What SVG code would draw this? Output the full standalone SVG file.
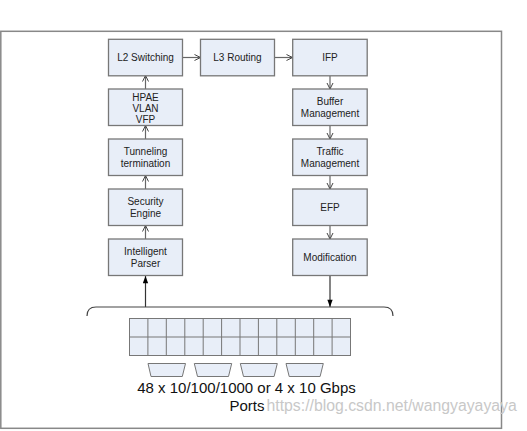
<svg xmlns="http://www.w3.org/2000/svg" width="527" height="431" viewBox="0 0 527 431">
<defs>
<style>
.box{fill:#e8eef8;stroke:#777;stroke-width:1.3}
.t{font-family:"Liberation Sans",Arial,sans-serif;font-size:10px;fill:#222;text-anchor:middle}
.c{fill:none;stroke:#666;stroke-width:1.2}
.port{fill:#e8eef8;stroke:#777;stroke-width:1}
.big{font-family:"Liberation Sans",Arial,sans-serif;font-size:15px;fill:#111;text-anchor:middle}
</style>
<marker id="open" viewBox="0 0 8 8" refX="7" refY="4" markerWidth="8" markerHeight="8" markerUnits="userSpaceOnUse" orient="auto">
<path d="M1,1 L7,4 L1,7" fill="none" stroke="#444" stroke-width="1"/>
</marker>
<marker id="solid" viewBox="0 0 8 12" refX="11" refY="4" markerWidth="12" markerHeight="8" markerUnits="userSpaceOnUse" orient="auto">
<path d="M0,0 L11,4 L0,8 Z" fill="#000"/>
</marker>
</defs>
<rect width="527" height="431" fill="#fff"/>
<rect x="0.8" y="31.3" width="500.7" height="397" fill="none" stroke="#888" stroke-width="1.5"/>

<g id="connectors">
<line class="c" x1="182.5" y1="57.5" x2="200.5" y2="57.5" marker-end="url(#open)"/>
<line class="c" x1="274.5" y1="57.5" x2="292.5" y2="57.5" marker-end="url(#open)"/>
<line class="c" x1="145.5" y1="89" x2="145.5" y2="75.5" marker-end="url(#open)"/>
<line class="c" x1="145.5" y1="139" x2="145.5" y2="125.5" marker-end="url(#open)"/>
<line class="c" x1="145.5" y1="189" x2="145.5" y2="175.5" marker-end="url(#open)"/>
<line class="c" x1="145.5" y1="239" x2="145.5" y2="225.5" marker-end="url(#open)"/>
<line class="c" x1="330" y1="75.5" x2="330" y2="89" marker-end="url(#open)"/>
<line class="c" x1="330" y1="125.5" x2="330" y2="139" marker-end="url(#open)"/>
<line class="c" x1="330" y1="175.5" x2="330" y2="189" marker-end="url(#open)"/>
<line class="c" x1="330" y1="225.5" x2="330" y2="239" marker-end="url(#open)"/>
<line x1="145.5" y1="307" x2="145.5" y2="276" stroke="#333" stroke-width="1.2" marker-end="url(#solid)"/>
<line x1="330" y1="276" x2="330" y2="307" stroke="#333" stroke-width="1.2" marker-end="url(#solid)"/>
<path d="M87,316 Q87,307 96,307 L384,307 Q393,307 393,316" fill="none" stroke="#444" stroke-width="1.2"/>
</g>

<g id="l2"><rect class="box" x="108.5" y="39.3" width="74" height="36.5"/><text class="t" x="145.5" y="61">L2 Switching</text></g>
<g id="l3"><rect class="box" x="200.5" y="39.3" width="74" height="36.5"/><text class="t" x="237.5" y="61">L3 Routing</text></g>
<g id="ifp"><rect class="box" x="292.7" y="39.3" width="74.5" height="36.5"/><text class="t" x="330" y="61">IFP</text></g>
<g id="hpae"><rect class="box" x="108.5" y="89" width="74" height="36.5"/><text class="t" x="145.5" y="101">HPAE</text><text class="t" x="145.5" y="112">VLAN</text><text class="t" x="145.5" y="123">VFP</text></g>
<g id="buffer"><rect class="box" x="292.7" y="89" width="74.5" height="36.5"/><text class="t" x="330" y="104.5">Buffer</text><text class="t" x="330" y="117">Management</text></g>
<g id="tunnel"><rect class="box" x="108.5" y="139" width="74" height="36.5"/><text class="t" x="145.5" y="154.5">Tunneling</text><text class="t" x="145.5" y="167">termination</text></g>
<g id="traffic"><rect class="box" x="292.7" y="139" width="74.5" height="36.5"/><text class="t" x="330" y="154.5">Traffic</text><text class="t" x="330" y="167">Management</text></g>
<g id="security"><rect class="box" x="108.5" y="189" width="74" height="36.5"/><text class="t" x="145.5" y="204.5">Security</text><text class="t" x="145.5" y="217">Engine</text></g>
<g id="efp"><rect class="box" x="292.7" y="189" width="74.5" height="36.5"/><text class="t" x="330" y="211">EFP</text></g>
<g id="parser"><rect class="box" x="108.5" y="239" width="74" height="36.5"/><text class="t" x="145.5" y="254.5">Intelligent</text><text class="t" x="145.5" y="267">Parser</text></g>
<g id="modification"><rect class="box" x="292.7" y="239" width="74.5" height="36.5"/><text class="t" x="330" y="261">Modification</text></g>

<g id="ports">
<rect class="port" x="129.5" y="318.5" width="221" height="37"/>
<g stroke="#777" stroke-width="1">
<line x1="129.5" y1="337" x2="350.5" y2="337"/>
<line x1="147.9" y1="318.5" x2="147.9" y2="355.5"/>
<line x1="166.3" y1="318.5" x2="166.3" y2="355.5"/>
<line x1="184.8" y1="318.5" x2="184.8" y2="355.5"/>
<line x1="203.2" y1="318.5" x2="203.2" y2="355.5"/>
<line x1="221.6" y1="318.5" x2="221.6" y2="355.5"/>
<line x1="240" y1="318.5" x2="240" y2="355.5"/>
<line x1="258.4" y1="318.5" x2="258.4" y2="355.5"/>
<line x1="276.8" y1="318.5" x2="276.8" y2="355.5"/>
<line x1="295.3" y1="318.5" x2="295.3" y2="355.5"/>
<line x1="313.7" y1="318.5" x2="313.7" y2="355.5"/>
<line x1="332.1" y1="318.5" x2="332.1" y2="355.5"/>
</g>
<path class="port" d="M148,363.5 L185.5,363.5 L182.3,376.5 L151,376.5 Z"/>
<path class="port" d="M194.3,363.5 L231.7,363.5 L228.5,376.5 L197.5,376.5 Z"/>
<path class="port" d="M240.3,363.5 L277.3,363.5 L274.1,376.5 L243.5,376.5 Z"/>
<path class="port" d="M286,363.5 L323.3,363.5 L320.1,376.5 L289.2,376.5 Z"/>
</g>

<text class="big" x="246.5" y="393">48 x 10/100/1000 or 4 x 10 Gbps</text>
<text class="big" x="247" y="411">Ports</text>
<text x="266.5" y="411" font-family="'Liberation Sans',Arial,sans-serif" font-size="15.8" fill="#c8c8c8">https://blog.csdn.net/wangyayayaya</text>
</svg>
